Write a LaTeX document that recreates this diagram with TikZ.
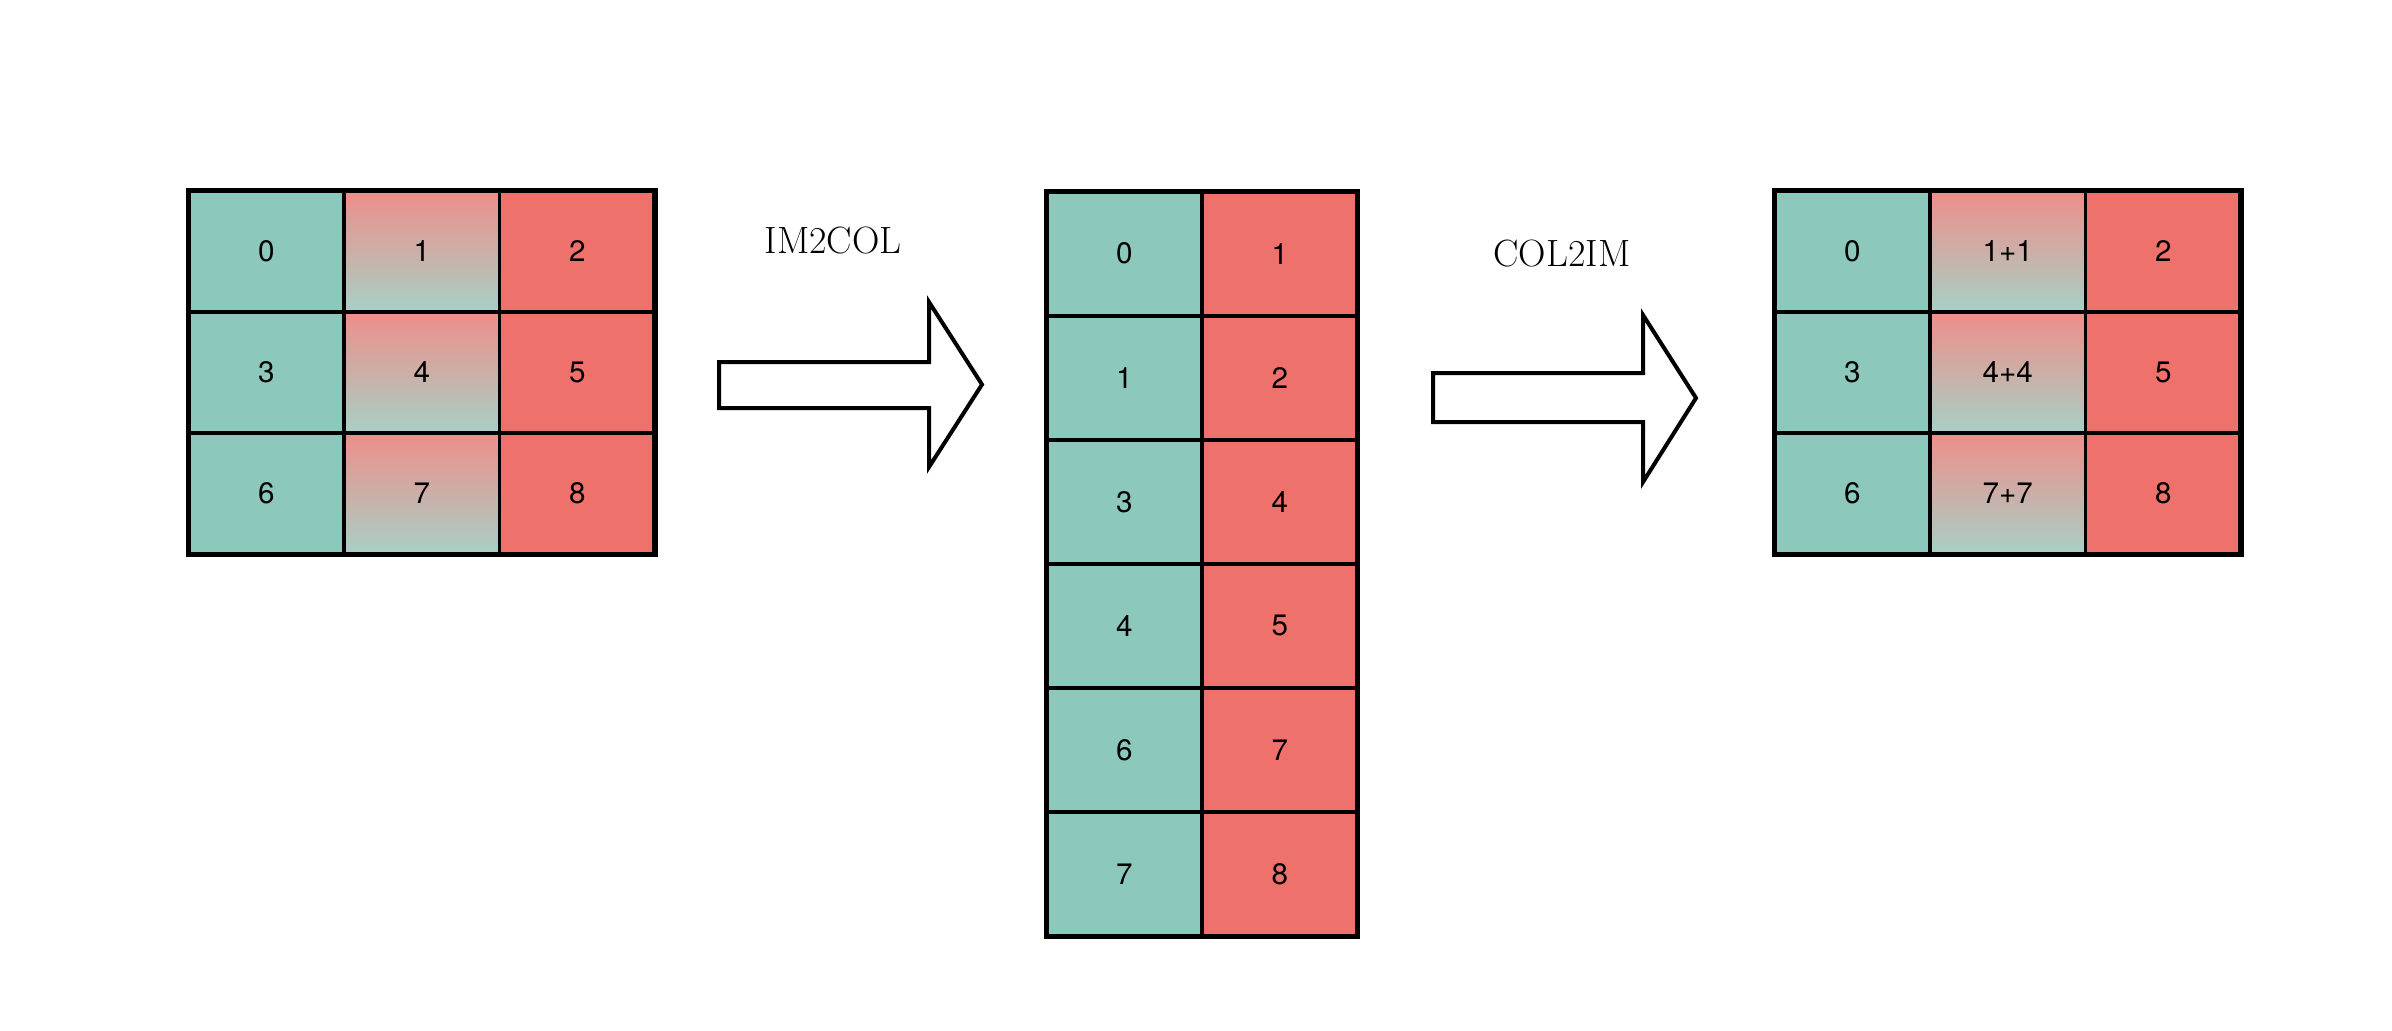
\documentclass[tikz,border=0pt]{standalone}
\usepackage{fontspec}
\newfontfamily\helv{TeX Gyre Heros}
\definecolor{tealc}{RGB}{141,200,188}
\definecolor{redc}{RGB}{238,113,107}
\definecolor{gtop}{RGB}{238,142,137}
\definecolor{gbot}{RGB}{168,208,198}
\begin{document}
\begin{tikzpicture}[x=0.5pt,y=-0.5pt,
  cell/.style={draw=black, line width=1.9pt, inner sep=0pt, outer sep=0pt,
    minimum width=77.75pt, minimum height=60.6pt,
    font=\helv\fontsize{14.8}{16}\selectfont},
  mcell/.style={minimum width=77.75pt, minimum height=62.05pt},
  tc/.style={cell, fill=tealc},
  rc/.style={cell, fill=redc},
  gc/.style={cell, top color=gtop, bottom color=gbot},
  frame/.style={draw=black, line width=2.6pt},
  bigarrow/.style={draw=black, line width=2pt, fill=white, line join=miter},
  lbl/.style={font=\fontsize{19}{21}\selectfont, anchor=base, inner sep=0pt}]
\fill[white] (0,0) rectangle (2392,1030);
\useasboundingbox (0,0) rectangle (2392,1030);

% left grid
\foreach \r in {0,1,2} {
  \pgfmathtruncatemacro\a{3*\r}
  \pgfmathtruncatemacro\b{3*\r+1}
  \pgfmathtruncatemacro\cc{3*\r+2}
  \node[tc] (L\a) at (266.25,{251.1+121.2*\r}) {\a};
  \node[gc] (L\b) at (421.75,{251.1+121.2*\r}) {\b};
  \node[rc] (L\cc) at (577.25,{251.1+121.2*\r}) {\cc};
}
\draw[frame] (L0.north west) rectangle (L8.south east);

% middle column
\foreach \r/\p/\q in {0/0/1,1/1/2,2/3/4,3/4/5,4/6/7,5/7/8} {
  \node[tc, mcell] (Ma\r) at (1124.25,{253.55+124.1*\r}) {\p};
  \node[rc, mcell] (Mb\r) at (1279.75,{253.55+124.1*\r}) {\q};
}
\draw[frame] (Ma0.north west) rectangle (Mb5.south east);

% right grid
\foreach \r in {0,1,2} {
  \pgfmathtruncatemacro\a{3*\r}
  \pgfmathtruncatemacro\b{3*\r+1}
  \pgfmathtruncatemacro\cc{3*\r+2}
  \node[tc] (R\a) at (1852.25,{251.1+121.2*\r}) {\a};
  \node[gc] (R\b) at (2007.75,{251.1+121.2*\r}) {\b+\b};
  \node[rc] (R\cc) at (2163.25,{251.1+121.2*\r}) {\cc};
}
\draw[frame] (R0.north west) rectangle (R8.south east);

% arrows
\draw[bigarrow] (719,362) -- (929,362) -- (929,302) -- (982,384.5)
  -- (929,467) -- (929,408) -- (719,408) -- cycle;
\draw[bigarrow] (1433,373) -- (1643,373) -- (1643,315) -- (1696,398)
  -- (1643,482) -- (1643,422) -- (1433,422) -- cycle;

% labels
\node[lbl] (im2col) at (833,253) {IM2COL};
\node[lbl] (col2im) at (1562,266) {COL2IM};
\end{tikzpicture}
\end{document}
